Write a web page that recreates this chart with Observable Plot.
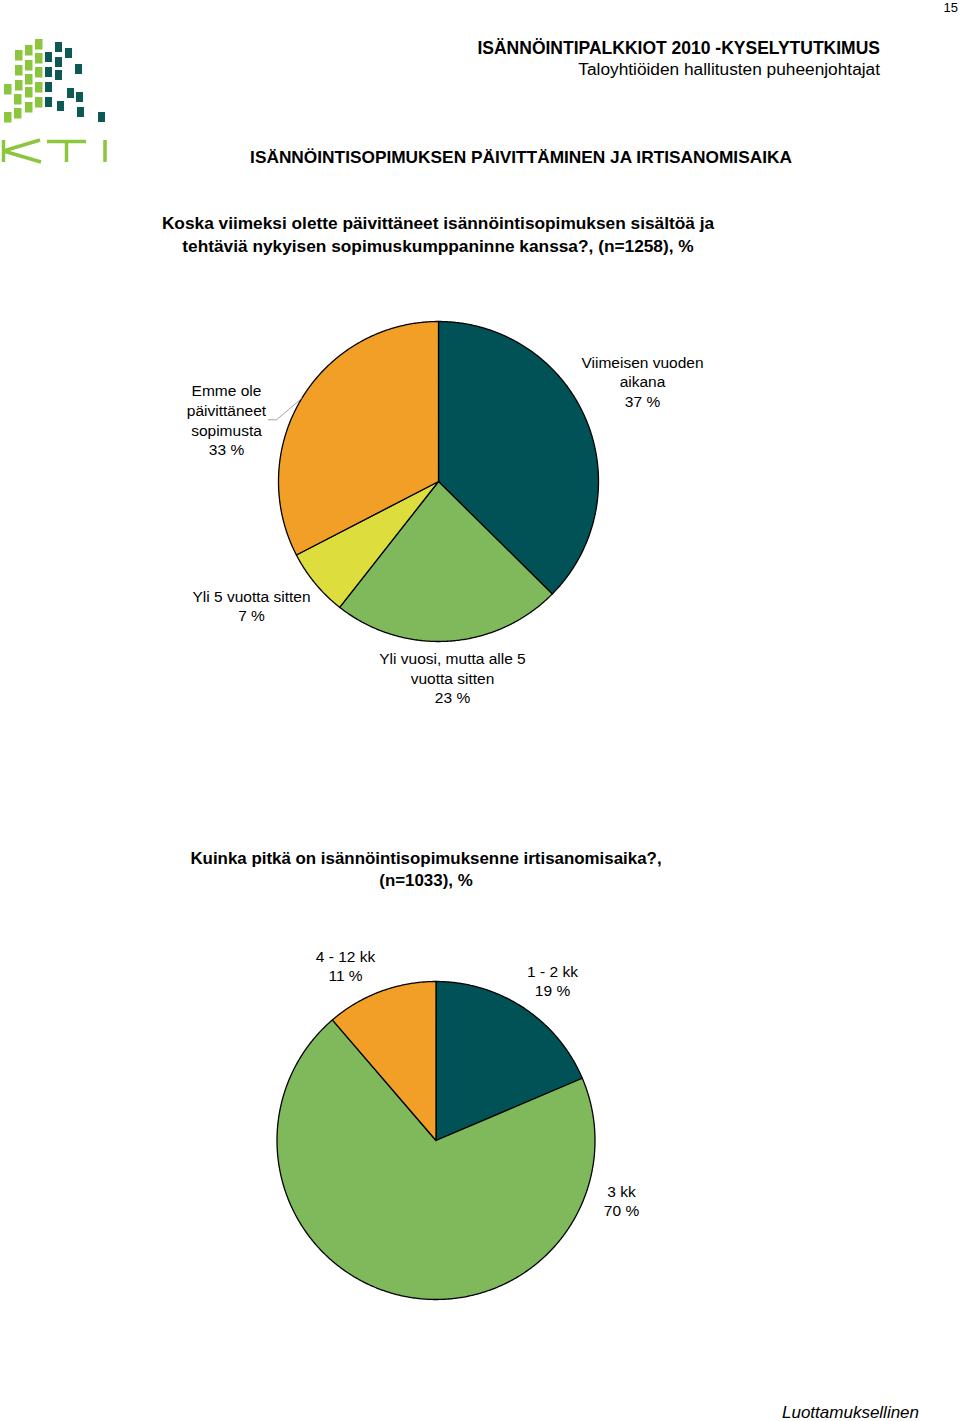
<!DOCTYPE html>
<html><head><meta charset="utf-8">
<script src="https://cdn.jsdelivr.net/npm/d3@7"></script>
<script src="https://cdn.jsdelivr.net/npm/@observablehq/plot@0.6"></script>
<style>
body{margin:0;background:#fff;}
#page{position:relative;width:960px;height:1421px;overflow:hidden;background:#fff;font-family:"Liberation Sans",Arial,Helvetica,sans-serif;color:#000;}
.t{position:absolute;white-space:nowrap;}
.b{font-weight:bold;}
.chart{position:absolute;left:0;}
</style></head><body>
<div id="page">
  <svg id="logo" class="t" style="left:0;top:0" width="120" height="170"></svg>
  <div class="t" style="right:2px;top:0;font-size:13px;line-height:16px;">15</div>
  <div class="t b" style="right:80px;top:38px;font-size:17.5px;line-height:20px;">ISÄNNÖINTIPALKKIOT 2010 -KYSELYTUTKIMUS</div>
  <div class="t" style="right:80px;top:59px;font-size:17.3px;line-height:20px;">Taloyhtiöiden hallitusten puheenjohtajat</div>
  <div class="t b" style="left:0;width:1042px;text-align:center;top:147px;font-size:17.3px;line-height:20px;">ISÄNNÖINTISOPIMUKSEN PÄIVITTÄMINEN JA IRTISANOMISAIKA</div>
  <div class="t b" style="left:0;width:876px;text-align:center;top:212px;font-size:17.3px;line-height:23px;">Koska viimeksi olette päivittäneet isännöintisopimuksen sisältöä ja<br>tehtäviä nykyisen sopimuskumppaninne kanssa?, (n=1258), %</div>
  <div id="chart1" class="chart" style="top:300px"></div>
  <div class="t b" style="left:0;width:852px;text-align:center;top:848px;font-size:16.9px;line-height:22px;">Kuinka pitkä on isännöintisopimuksenne irtisanomisaika?,<br>(n=1033), %</div>
  <div id="chart2" class="chart" style="top:930px"></div>
  <div class="t" style="left:782px;top:1403px;font-size:17px;line-height:20px;font-style:italic;">Luottamuksellinen</div>
</div>
<script>
// ---- data (percent shares, labels show the rounded value) ----
const updateCategories = ["Viimeisen vuoden aikana", "Yli vuosi, mutta alle 5 vuotta sitten", "Yli 5 vuotta sitten", "Emme ole päivittäneet sopimusta"];
const updateValues = [37.4, 23.2, 6.8, 32.6];
const updateLabelLines = ["Viimeisen vuoden\naikana", "Yli vuosi, mutta alle 5\nvuotta sitten", "Yli 5 vuotta sitten", "Emme ole\npäivittäneet\nsopimusta"];

const noticeCategories = ["1 - 2 kk", "3 kk", "4 - 12 kk"];
const noticeValues = [18.6, 70.1, 11.3];
const noticeLabelLines = ["1 - 2 kk", "3 kk", "4 - 12 kk"];

// ---- styles / layout ----
const updateColors = ["#005256", "#7fb95b", "#dedd3e", "#f29f28"];
const noticeColors = ["#005256", "#7fb95b", "#f29f28"];
const FONT = "Liberation Sans, Arial, Helvetica, sans-serif";

const layout1 = {width: 960, height: 420, cx: 438, cy: 181, r: 160,
  labels: [[642, 80.5], [452, 377], [251, 304.5], [226, 119]],
  leader: {slice: 3, from: [[268, 119.3], [276, 119.3]]}};
const layout2 = {width: 960, height: 390, cx: 435.5, cy: 210, r: 159,
  labels: [[552, 49.5], [621, 269.5], [345, 34.5]]};

function pieChart(cats, vals, lines, colors, L) {
  const arcs = d3.pie().sort(null).value(d => d)(vals);
  const pts = [];
  arcs.forEach((a, i) => {
    const n = Math.max(2, Math.ceil((a.endAngle - a.startAngle) / (Math.PI / 360)));
    pts.push({key: cats[i], x: L.cx, y: L.cy});
    for (let k = 0; k <= n; k++) {
      const t = a.startAngle + (a.endAngle - a.startAngle) * k / n;
      pts.push({key: cats[i], x: L.cx + L.r * Math.sin(t), y: L.cy - L.r * Math.cos(t)});
    }
    pts.push({key: cats[i], x: L.cx, y: L.cy});
  });
  const labels = arcs.map((a, i) => ({x: L.labels[i][0], y: L.labels[i][1], text: lines[i] + "\n" + Math.round(vals[i]) + " %"}));
  const marks = [
    Plot.line(pts, {x: "x", y: "y", z: "key", fill: "key", stroke: "#000", strokeWidth: 1.3, curve: "linear", strokeLinejoin: "round"})
  ];
  if (L.leader) {
    const a = arcs[L.leader.slice];
    const m = (a.startAngle + a.endAngle) / 2;
    const lp = L.leader.from.map(([x, y]) => ({x, y}));
    lp.push({x: L.cx + L.r * Math.sin(m), y: L.cy - L.r * Math.cos(m)});
    marks.push(Plot.line(lp, {x: "x", y: "y", stroke: "#8c8c8c", strokeWidth: 0.8}));
  }
  marks.push(Plot.text(labels, {x: "x", y: "y", text: "text", fontSize: 15.5, lineHeight: 1.26, fill: "#000", fontFamily: FONT, textAnchor: "middle", lineAnchor: "middle"}));
  return Plot.plot({
    width: L.width, height: L.height, margin: 0,
    style: {background: "transparent", fontFamily: FONT},
    x: {domain: [0, L.width], range: [0, L.width], axis: null},
    y: {domain: [0, L.height], range: [0, L.height], axis: null},
    color: {domain: cats, range: colors},
    marks
  });
}

document.getElementById("chart1").appendChild(pieChart(updateCategories, updateValues, updateLabelLines, updateColors, layout1));
document.getElementById("chart2").appendChild(pieChart(noticeCategories, noticeValues, noticeLabelLines, noticeColors, layout2));

// ---- logo (decoration) ----
const logoGreen = [[4,84],[4,112],[15,50],[15,65],[15,80],[14,94],[14,108],[25,45],[25,60],[25,74],[25,87],[25,102],[35,39],[35,53],[35,67],[35,82],[35,97]];
const logoDark = [[55,42],[65,48],[45,52],[55,57],[75,64],[45,67],[55,70],[45,82],[67,88],[76,92],[45,97],[57,101],[77,107],[98,112]];
const lg = d3.select("#logo");
lg.selectAll("rect.g").data(logoGreen).join("rect").attr("class","g").attr("x", d => d[0]).attr("y", d => d[1]).attr("width", 7.5).attr("height", 10.5).attr("fill", "#8cc63f");
lg.selectAll("rect.d").data(logoDark).join("rect").attr("class","d").attr("x", d => d[0]).attr("y", d => d[1]).attr("width", 7).attr("height", 10).attr("fill", "#0d5a55");
lg.append("path").attr("d", "M3.5,140V162M3.5,151L40,140M3.5,151L41,162M47,141.5H86M66.5,141.5V162M105,140V162")
  .attr("stroke", "#8cc63f").attr("stroke-width", 3.5).attr("fill", "none");
</script>
</body></html>
